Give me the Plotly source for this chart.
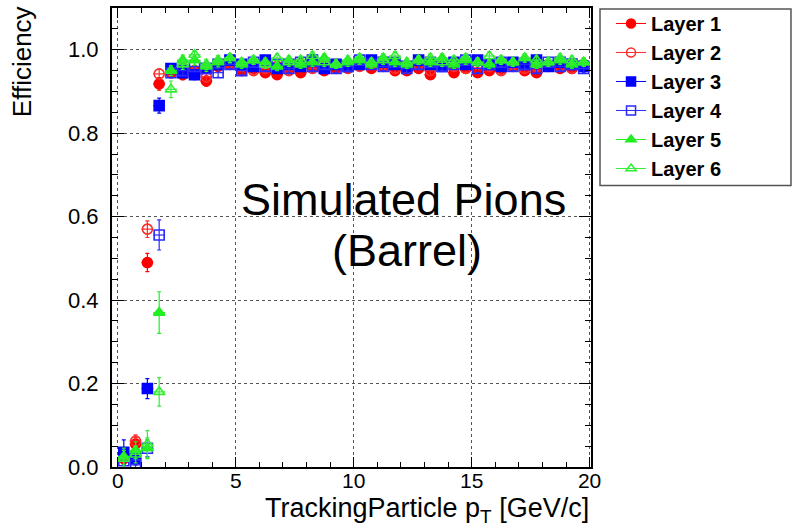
import plotly.graph_objects as go

# Bin centres (GeV/c), bins of 0.5 GeV/c
pt = [0.25, 0.75, 1.25, 1.75, 2.25, 2.75, 3.25, 3.75, 4.25, 4.75,
      5.25, 5.75, 6.25, 6.75, 7.25, 7.75, 8.25, 8.75, 9.25, 9.75,
      10.25, 10.75, 11.25, 11.75, 12.25, 12.75, 13.25, 13.75, 14.25, 14.75,
      15.25, 15.75, 16.25, 16.75, 17.25, 17.75, 18.25, 18.75, 19.25, 19.75]
pt_halfwidth = 0.25

layer1 = [0.020, 0.055, 0.490, 0.918, 0.945, 0.940, 0.950, 0.925, 0.960, 0.965,
          0.950, 0.955, 0.945, 0.940, 0.955, 0.945, 0.960, 0.950, 0.955, 0.960,
          0.965, 0.955, 0.960, 0.950, 0.950, 0.955, 0.940, 0.960, 0.945, 0.955,
          0.945, 0.950, 0.955, 0.960, 0.950, 0.945, 0.960, 0.955, 0.955, 0.960]
layer2 = [0.030, 0.062, 0.570, 0.942, 0.950, 0.955, 0.945, 0.935, 0.965, 0.970,
          0.960, 0.950, 0.955, 0.960, 0.950, 0.965, 0.955, 0.960, 0.965, 0.955,
          0.960, 0.970, 0.965, 0.955, 0.960, 0.965, 0.950, 0.965, 0.960, 0.955,
          0.965, 0.960, 0.950, 0.965, 0.955, 0.960, 0.965, 0.960, 0.955, 0.965]
layer3 = [0.035, 0.020, 0.188, 0.866, 0.955, 0.945, 0.940, 0.955, 0.965, 0.975,
          0.965, 0.960, 0.975, 0.955, 0.965, 0.960, 0.975, 0.955, 0.965, 0.960,
          0.965, 0.975, 0.970, 0.965, 0.960, 0.975, 0.965, 0.960, 0.970, 0.965,
          0.975, 0.965, 0.960, 0.970, 0.965, 0.975, 0.960, 0.970, 0.965, 0.960]
layer4 = [0.015, 0.005, 0.045, 0.556, 0.945, 0.950, 0.960, 0.955, 0.945, 0.965,
          0.950, 0.970, 0.960, 0.965, 0.955, 0.970, 0.960, 0.965, 0.955, 0.960,
          0.975, 0.965, 0.960, 0.970, 0.955, 0.965, 0.970, 0.960, 0.965, 0.975,
          0.955, 0.965, 0.970, 0.960, 0.965, 0.955, 0.970, 0.960, 0.965, 0.955]
layer5 = [0.025, 0.040, 0.045, 0.370, 0.950, 0.975, 0.975, 0.960, 0.970, 0.980,
          0.965, 0.975, 0.970, 0.960, 0.975, 0.965, 0.970, 0.980, 0.965, 0.970,
          0.975, 0.965, 0.980, 0.970, 0.965, 0.975, 0.970, 0.980, 0.965, 0.975,
          0.970, 0.965, 0.975, 0.970, 0.980, 0.965, 0.970, 0.975, 0.965, 0.970]
layer6 = [0.020, 0.030, 0.055, 0.180, 0.905, 0.965, 0.988, 0.965, 0.975, 0.980,
          0.970, 0.975, 0.965, 0.980, 0.970, 0.975, 0.985, 0.970, 0.965, 0.975,
          0.980, 0.970, 0.975, 0.985, 0.970, 0.975, 0.980, 0.970, 0.975, 0.980,
          0.970, 0.985, 0.975, 0.970, 0.980, 0.975, 0.970, 0.980, 0.975, 0.970]

err1 = [0.015, 0.015, 0.022, 0.015, 0.012, 0.012, 0.012, 0.012, 0.011, 0.011] + [0.010] * 30
err2 = [0.015, 0.015, 0.020, 0.012, 0.012, 0.012, 0.012, 0.012, 0.011, 0.011] + [0.010] * 30
err3 = [0.030, 0.015, 0.024, 0.018, 0.012, 0.012, 0.012, 0.012, 0.011, 0.011] + [0.010] * 30
err4 = [0.020, 0.012, 0.020, 0.036, 0.012, 0.012, 0.012, 0.012, 0.011, 0.011] + [0.010] * 30
err5 = [0.020, 0.020, 0.025, 0.050, 0.012, 0.012, 0.012, 0.012, 0.011, 0.011] + [0.010] * 30
err6 = [0.020, 0.020, 0.032, 0.034, 0.020, 0.012, 0.010, 0.012, 0.011, 0.011] + [0.010] * 30

names = ["Layer 1", "Layer 2", "Layer 3", "Layer 4", "Layer 5", "Layer 6"]
series = [layer1, layer2, layer3, layer4, layer5, layer6]
errors = [err1, err2, err3, err4, err5, err6]
colors = ["#ff0000", "#ff2a2a", "#0000ff", "#2a2aff", "#22ee22", "#33ee33"]
symbols = ["circle", "circle-open", "square", "square-open",
           "triangle-up", "triangle-up-open"]

x_ticks = [0, 5, 10, 15, 20]
y_ticks = [0.0, 0.2, 0.4, 0.6, 0.8, 1.0]

FONT = "Liberation Sans, Arial, Helvetica, sans-serif"

fig = go.Figure()
for name, ys, es, col, sym in zip(names, series, errors, colors, symbols):
    fig.add_trace(go.Scatter(
        x=pt, y=ys, mode="markers", showlegend=False,
        marker=dict(symbol=sym, size=10, color=col, line=dict(color=col, width=1.6)),
        error_y=dict(type="data", array=es, color=col, thickness=1.2, width=2),
        error_x=dict(type="constant", value=pt_halfwidth, color=col, thickness=1.2, width=0),
    ))

for i, (name, col, sym) in enumerate(zip(names, colors, symbols)):
    fig.add_trace(go.Scatter(
        x=[None], y=[None], mode="lines+markers", name=name,
        legendgroup=f"g{i}",
        marker=dict(symbol=sym, size=9, color=col, line=dict(color=col, width=1.5)),
        line=dict(color=col, width=1),
    ))

fig.update_layout(
    width=792, height=530,
    margin=dict(l=112, r=201, t=8, b=63, autoexpand=False),
    paper_bgcolor="white", plot_bgcolor="white",
    font=dict(family=FONT, color="black"),
    showlegend=True,
    legend=dict(
        xref="container", yref="container",
        x=0.7715, y=0.9925, xanchor="left", yanchor="top",
        bgcolor="rgba(0,0,0,0)", borderwidth=0,
        font=dict(family=FONT, size=20, color="black", weight="bold"),
        traceorder="grouped", tracegroupgap=0,
    ),
    xaxis=dict(
        range=[-0.25, 20.06], tickvals=x_ticks, ticktext=[str(v) for v in x_ticks],
        ticks="inside", ticklen=10, tickwidth=1, tickcolor="black",
        minor=dict(dtick=1, ticks="inside", ticklen=5, tickcolor="black", showgrid=False),
        showline=True, linecolor="black", linewidth=2, mirror="allticks",
        showgrid=True, gridcolor="#555555", griddash="dot", gridwidth=1,
        zeroline=False, tickfont=dict(size=21, family=FONT, color="black"),
        ticklabelstandoff=-6,
    ),
    yaxis=dict(
        range=[0, 1.1], tickvals=y_ticks, ticktext=[f"{v:.1f}" for v in y_ticks],
        ticks="inside", ticklen=12, tickwidth=1, tickcolor="black",
        minor=dict(dtick=0.05, ticks="inside", ticklen=6, tickcolor="black", showgrid=False),
        showline=True, linecolor="black", linewidth=2, mirror="allticks",
        showgrid=True, gridcolor="#555555", griddash="dot", gridwidth=1,
        zeroline=False, tickfont=dict(size=22, family=FONT, color="black"),
        ticklabelstandoff=7,
    ),
    shapes=[dict(type="rect", xref="paper", yref="paper",
                 x0=1.0188, x1=1.4175, y0=0.6135, y1=0.9978,
                 line=dict(color="#555555", width=1.5), fillcolor="rgba(0,0,0,0)")],
    annotations=[
        dict(text="Simulated Pions", x=12.13, y=0.641, xref="x", yref="y",
             showarrow=False, xanchor="center", yanchor="middle",
             font=dict(family=FONT, size=45, color="black")),
        dict(text="(Barrel)", x=12.25, y=0.5187, xref="x", yref="y",
             showarrow=False, xanchor="center", yanchor="middle",
             font=dict(family=FONT, size=45, color="black")),
        dict(text="Efficiency", x=-0.188, y=0.884, xref="paper", yref="paper",
             textangle=-90, showarrow=False, xanchor="center", yanchor="middle",
             font=dict(family=FONT, size=26, color="black")),
        dict(text="TrackingParticle p<sub>T</sub> [GeV/c]", x=1.0, y=-0.094,
             xref="paper", yref="paper", showarrow=False, xanchor="right", yanchor="middle",
             font=dict(family=FONT, size=27, color="black")),
    ],
)

fig.write_html("out.html", config={"displayModeBar": False},
               post_script="document.body.style.margin='0';")
